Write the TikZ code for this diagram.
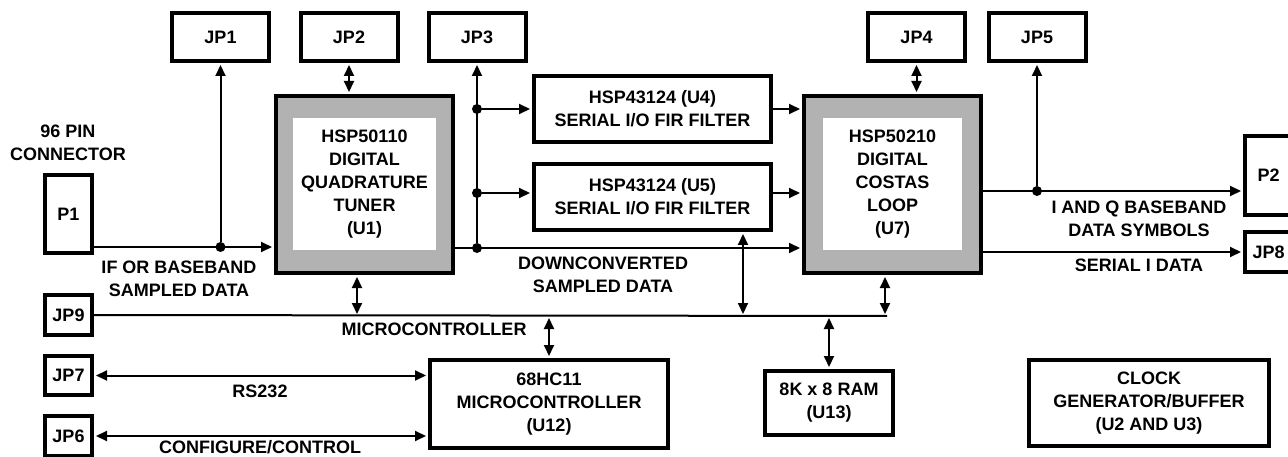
\documentclass[tikz,border=0pt]{standalone}
\usepackage{fontspec}
\setmainfont{Liberation Sans}
\usetikzlibrary{arrows.meta}
\definecolor{chipgray}{gray}{0.7}
\tikzset{
	box/.style={draw,line width=4pt,fill=white,inner sep=0pt,align=center},
	jp/.style={box,minimum width=97pt,minimum height=48pt},
	pin/.style={box,minimum width=47pt,minimum height=#1},
	chip/.style={draw,line width=4pt,fill=chipgray,minimum width=177pt,minimum height=177pt},
	core/.style={fill=white,inner sep=0pt,align=center,minimum width=#1,minimum height=132pt},
	sig/.style={line width=2pt,shorten >=2pt,-{Triangle[length=11pt,width=10pt]}},
	bidir/.style={line width=2pt,shorten <=2pt,shorten >=2pt,{Triangle[length=11pt,width=10pt]}-{Triangle[length=11pt,width=10pt]}},
	wire/.style={line width=2pt},
	tap/.style={circle,fill,inner sep=0pt,minimum size=10pt},
	lbl/.style={align=center,inner sep=0pt}
}
\begin{document}
\begin{tikzpicture}[x=1pt,y=-1pt,font=\bfseries\fontsize{18}{23}\selectfont]
	\useasboundingbox (0,0) rectangle (1288,457);
	\clip (0,0) rectangle (1288,457);

	\node [jp] (JP1) at (220.5,37) {JP1};
	\node [jp] (JP2) at (349,37) {JP2};
	\node [jp] (JP3) at (477,37) {JP3};
	\node [jp] (JP4) at (916.5,37) {JP4};
	\node [jp] (JP5) at (1037,37) {JP5};

	\node [pin=78pt] (P1) at (68.5,214) {P1};
	\node [pin=40pt] (JP9) at (68.5,315) {JP9};
	\node [pin=39pt] (JP7) at (68.5,375.5) {JP7};
	\node [pin=40pt] (JP6) at (68.5,436) {JP6};
	\node [pin=79pt] (P2) at (1268.5,175.5) {P2};
	\node [pin=40pt] (JP8) at (1268.5,252) {JP8};

	\node [chip] (U1) at (364.5,184.5) {};
	\node [core=143pt] (U1core) at (U1) {HSP50110\\DIGITAL\\QUADRATURE\\TUNER\\(U1)};
	\node [chip] (U7) at (892.5,184.5) {};
	\node [core=139pt] (U7core) at (U7) {HSP50210\\DIGITAL\\COSTAS\\LOOP\\(U7)};

	\node [box,minimum width=237pt,minimum height=66pt] (U4) at (652.5,109) {HSP43124 (U4)\\SERIAL I/O FIR FILTER};
	\node [box,minimum width=237pt,minimum height=66pt] (U5) at (652.5,197) {HSP43124 (U5)\\SERIAL I/O FIR FILTER};
	\node [box,minimum width=238pt,minimum height=88pt] (U12) at (549,404) {68HC11\\MICROCONTROLLER\\(U12)};
	\node [box,minimum width=128pt,minimum height=64pt] (U13) at (829,403) {8K x 8 RAM\\(U13)};
	\node [box,minimum width=240pt,minimum height=86pt] (CLK) at (1149,403) {CLOCK\\GENERATOR/BUFFER\\(U2 AND U3)};

	\node [tap] (t1) at (220.5,247) {};
	\node [tap] (t2) at (477,109) {};
	\node [tap] (t3) at (477,193) {};
	\node [tap] (t4) at (477,248) {};
	\node [tap] (t5) at (1037,191) {};
	\coordinate (busend) at (887,316);
	\coordinate (busU1) at ([xshift=-7.5pt]U1.south);
	\coordinate (busU5) at ([xshift=-30pt]U5.south east);
	\coordinate (busU7) at ([xshift=-7.5pt]U7.south);

	\draw [sig] (t1 -| P1.east) -- (t1 -| U1.west);
	\draw [sig] (t1) -- (JP1.south);
	\draw [bidir] (JP2.south) -- (JP2.south |- U1.north);
	\draw [sig] (t4) -- (JP3.south);
	\draw [sig] (t4 -| U1.east) -- (t4 -| U7.west);
	\draw [sig] (t2) -- (U4.west);
	\draw [sig] (t3) -- (t3 -| U5.west);
	\draw [sig] (U4.east) -- (U4.east -| U7.west);
	\draw [sig] (t3 -| U5.east) -- (t3 -| U7.west);
	\draw [bidir] (JP4.south) -- (JP4.south |- U7.north);
	\draw [sig] (t5 -| U7.east) -- (t5 -| P2.west);
	\draw [sig] (t5) -- (JP5.south);
	\draw [sig] (JP8.west -| U7.east) -- (JP8.west);

	\draw [wire] (JP9.east) -- (busend);
	\draw [bidir] (busU1) -- (busU1 |- busend);
	\draw [bidir] (busU5) -- (busU5 |- busend);
	\draw [bidir] (busU7) -- (busU7 |- busend);
	\draw [bidir] (U12.north |- busend) -- (U12.north);
	\draw [bidir] (U13.north |- busend) -- (U13.north);
	\draw [bidir] (JP7.east) -- (JP7.east -| U12.west);
	\draw [bidir] (JP6.east) -- (JP6.east -| U12.west);

	\node [lbl] (conn) at (68,142.5) {96 PIN\\CONNECTOR};
	\node [lbl] (ifdata) at (179,278.5) {IF OR BASEBAND\\SAMPLED DATA};
	\node [lbl] (dcdata) at (603,275) {DOWNCONVERTED\\SAMPLED DATA};
	\node [lbl] (mclbl) at (434,329) {MICROCONTROLLER};
	\node [lbl] (rslbl) at (260,391) {RS232};
	\node [lbl] (cfglbl) at (260,447.5) {CONFIGURE/CONTROL};
	\node [lbl] (iqlbl) at (1139,218.5) {I AND Q BASEBAND\\DATA SYMBOLS};
	\node [lbl] (silbl) at (1139,265) {SERIAL I DATA};
\end{tikzpicture}
\end{document}
